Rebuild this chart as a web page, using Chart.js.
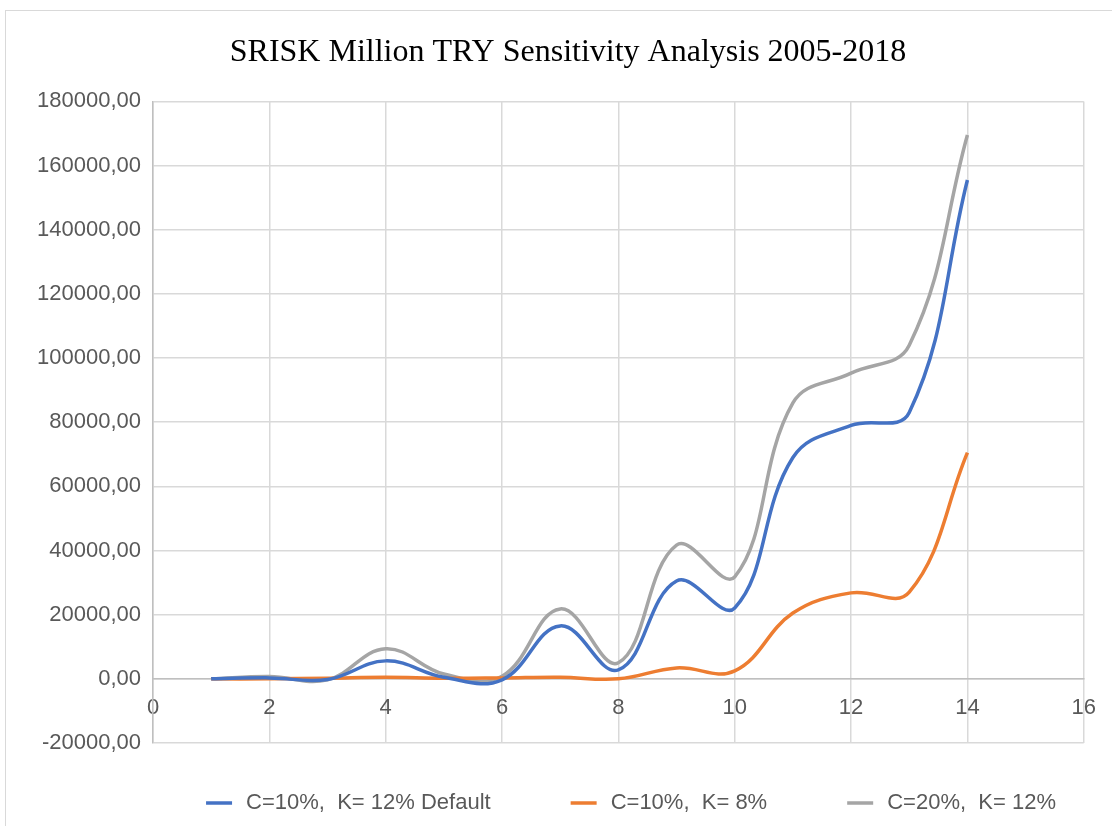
<!DOCTYPE html>
<html>
<head>
<meta charset="utf-8">
<script src="https://cdn.jsdelivr.net/npm/chart.js@4"></script>
<style>
  html, body { margin: 0; padding: 0; background: #fff; }
  #frame { position: absolute; left: 5px; top: 10px; width: 1120px; height: 830px; border: 1px solid #d9d9d9; box-sizing: border-box; }
  #wrap { position: absolute; left: 0; top: 0; width: 1112px; height: 826px; }
</style>
</head>
<body>
<div id="frame"></div>
<div id="wrap"><canvas id="c" width="1112" height="826"></canvas></div>
<script>
const years = [1, 2, 3, 4, 5, 6, 7, 8, 9, 10, 11, 12, 13, 14];
const srDefault = [0, 300, -200, 5600, 500, -300, 16500, 2800, 30500, 22100, 69000, 79000, 83000, 155500];
const srK8 = [0, 0, 200, 500, 200, 300, 500, 0, 3400, 2500, 20500, 26800, 27000, 70500];
const srC20 = [0, 700, -300, 9400, 1500, 800, 21800, 5000, 41700, 31800, 86000, 95300, 104000, 169500];
const xTicks = [0, 2, 4, 6, 8, 10, 12, 14, 16];
const yTicks = [-20000, 0, 20000, 40000, 60000, 80000, 100000, 120000, 140000, 160000, 180000];

const labelFont = '"Liberation Sans", Arial, sans-serif';

const toPts = vals => years.map((x, i) => ({ x: x, y: vals[i] }));

const ds = (label, vals, color) => ({
  label: label,
  data: toPts(vals),
  borderColor: color,
  backgroundColor: color,
  borderWidth: 3.5,
  pointRadius: 0,
  tension: 0.4,
  showLine: true
});

// legend drawn by hand so the spacing matches the Excel layout
const lineLegend = {
  id: 'lineLegend',
  afterLayout(chart) {
    // let the y labels spill left of the narrow axis box without being clipped
    chart.scales.y.left = 0;
  },
  afterDraw(chart) {
    const ctx = chart.ctx;
    const sets = chart.data.datasets;
    const sample = 26, gapText = 14, gapItem = 80, centerX = 631, y = 803;
    ctx.save();
    ctx.font = '22px ' + labelFont;
    const widths = sets.map(d => sample + gapText + ctx.measureText(d.label).width);
    const total = widths.reduce((a, b) => a + b, 0) + gapItem * (sets.length - 1);
    let x = centerX - total / 2;
    sets.forEach((d, i) => {
      ctx.strokeStyle = d.borderColor;
      ctx.lineWidth = 3.5;
      ctx.beginPath();
      ctx.moveTo(x, y);
      ctx.lineTo(x + sample, y);
      ctx.stroke();
      ctx.fillStyle = '#595959';
      ctx.textBaseline = 'middle';
      ctx.textAlign = 'left';
      ctx.fillText(d.label, x + sample + gapText, y);
      x += widths[i] + gapItem;
    });
    ctx.restore();
  }
};

new Chart(document.getElementById('c'), {
  type: 'scatter',
  data: {
    datasets: [
      ds('C=10%,  K= 12% Default', srDefault, '#4472C4'),
      ds('C=10%,  K= 8%', srK8, '#ED7D31'),
      ds('C=20%,  K= 12%', srC20, '#A5A5A5')
    ]
  },
  plugins: [lineLegend],
  options: {
    responsive: false,
    animation: false,
    layout: { padding: { left: 52, right: 28, top: 0, bottom: 83 } },
    plugins: {
      title: {
        display: true,
        text: 'SRISK Million TRY Sensitivity Analysis 2005-2018',
        color: '#000',
        font: { family: '"Liberation Serif", "Times New Roman", serif', size: 32, weight: 'normal' },
        padding: { top: 33, bottom: 30 }
      },
      legend: { display: false },
      tooltip: { enabled: false }
    },
    scales: {
      x: {
        type: 'linear',
        position: { y: 0 },
        min: 0,
        max: 16,
        afterBuildTicks: s => { s.ticks = xTicks.map(v => ({ value: v })); },
        ticks: {
          color: '#595959',
          padding: 16,
          font: { family: labelFont, size: 22 }
        },
        grid: { color: '#d9d9d9', lineWidth: 1.5, drawTicks: false },
        border: { color: '#bfbfbf', width: 1.5 }
      },
      y: {
        min: -20000,
        max: 180000,
        afterBuildTicks: s => { s.ticks = yTicks.map(v => ({ value: v })); },
        afterFit: s => { s.width = 101; },
        ticks: {
          color: '#595959',
          padding: 12,
          font: { family: labelFont, size: 22 },
          callback: v => v + ',00'
        },
        grid: { color: '#d9d9d9', lineWidth: 1.5, drawTicks: false },
        border: { color: '#bfbfbf', width: 1.5 }
      }
    }
  }
});
</script>
</body>
</html>
